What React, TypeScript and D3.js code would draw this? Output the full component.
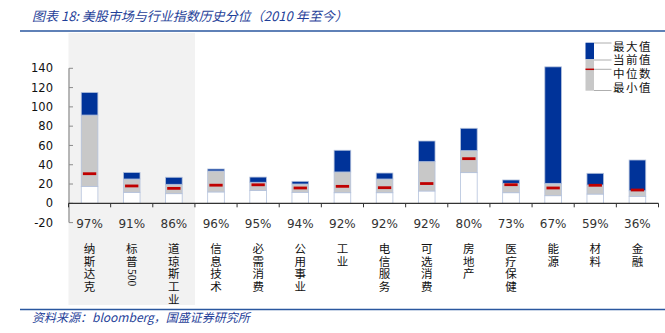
import React from "react";
import * as d3 from "d3";

const categories = ["纳斯达克", "标普500", "道琼斯工业", "信息技术", "必需消费", "公用事业", "工业", "电信服务", "可选消费", "房地产", "医疗保健", "能源", "材料", "金融"];
const percentiles = ["97%", "91%", "86%", "96%", "95%", "94%", "92%", "92%", "92%", "80%", "73%", "67%", "59%", "36%"];
const minVals = [17.6, 11.4, 10, 11.8, 13.3, 11.4, 11, 11, 12.8, 31.8, 11, 7.9, 9.6, 7.3];
const currentVals = [91.5, 25.2, 19.7, 33.5, 21.8, 20, 32.5, 25.2, 43.2, 54.6, 20.7, 20.7, 19, 13];
const maxVals = [115, 32, 27, 35.6, 27.2, 22.8, 55, 31.4, 64.6, 77.8, 24.2, 141.5, 31.1, 44.9];
const medianVals = [30.7, 18, 15.5, 18.8, 19.2, 15.9, 17.6, 16.2, 20.5, 46.3, 19.3, 15.9, 18.7, 13.8];
const yTicks = [-20, 0, 20, 40, 60, 80, 100, 120, 140];
const legendLabels = ["最大值", "当前值", "中位数", "最小值"];
const highlightCount = 3;

const title = "图表 18:  美股市场与行业指数历史分位（2010 年至今）";
const source = "资料来源：bloomberg，国盛证券研究所";

const BLUE = "#003399";
const GRAY = "#c8c8c8";
const RED = "#c00000";
const EDGE = "#b4c2dc";
const TEXTBLUE = "#1f3f99";
const CJK = "'Noto Sans CJK SC', sans-serif";
const CJK_TIGHT = "'Liberation Serif', 'Noto Sans CJK SC', serif";
const NUM = "'DejaVu Sans', sans-serif";

function tokenize(s: string): string[] {
  const out: string[] = [];
  let buf = "";
  for (const ch of s) {
    if (/[0-9A-Za-z]/.test(ch)) buf += ch;
    else {
      if (buf) { out.push(buf); buf = ""; }
      out.push(ch);
    }
  }
  if (buf) out.push(buf);
  return out;
}

export default function App() {
  const W = 665, H = 333;
  const x = d3.scaleBand<string>().domain(categories).range([68.5, 658.5]).padding(0);
  const y = d3.scaleLinear().domain([-20, 140]).range([222.6, 68.3]);
  const bw = x.bandwidth() * 0.395;
  const redW = bw * 0.8;

  const y0 = y(0);

  return (
    <svg width={W} height={H} style={{ position: "absolute", left: 0, top: 0, background: "#fff" }}>
      {/* highlight background */}
      <rect x={68.5} y={33} width={x.bandwidth() * highlightCount} height={272} fill="#f2f2f2" />

      {/* title */}
      <text x={32} y={21} fontFamily={CJK} fontSize={13} fontStyle="italic" fill={TEXTBLUE}>{title}</text>
      <line x1={20} x2={665} y1={31} y2={31} stroke="#2a579f" strokeWidth={1.5} />
      <line x1={20} x2={665} y1={309.5} y2={309.5} stroke="#2a579f" strokeWidth={1.5} />
      <text x={32} y={322} fontFamily={CJK} fontSize={12} fontStyle="italic" fill={TEXTBLUE}>{source}</text>

      {/* y axis */}
      <line x1={69} x2={69} y1={y(140)} y2={y(-20)} stroke="#8c8c8c" strokeWidth={1.2} />
      {yTicks.map((t) => (
        <g key={t}>
          <line x1={69} x2={73} y1={y(t)} y2={y(t)} stroke="#8c8c8c" strokeWidth={1} />
          <text x={53} y={y(t)} dy="0.36em" textAnchor="end" fontFamily={NUM} fontSize={11.5} fill="#111">{t}</text>
        </g>
      ))}

      {/* bars */}
      {categories.map((c, i) => {
        const cx = (x(c) as number) + x.bandwidth() / 2;
        const bx = cx - bw / 2;
        return (
          <g key={c}>
            <rect x={bx} y={y(minVals[i])} width={bw} height={y0 - y(minVals[i])} fill="#fff" stroke={EDGE} strokeWidth={0.8} />
            <rect x={bx} y={y(currentVals[i])} width={bw} height={y(minVals[i]) - y(currentVals[i])} fill={GRAY} stroke={EDGE} strokeWidth={0.8} />
            <rect x={bx} y={y(maxVals[i])} width={bw} height={y(currentVals[i]) - y(maxVals[i])} fill={BLUE} stroke={EDGE} strokeWidth={0.8} />
            <line x1={cx - redW / 2} x2={cx + redW / 2} y1={y(medianVals[i])} y2={y(medianVals[i])} stroke={RED} strokeWidth={2.8} />
          </g>
        );
      })}

      {/* x axis */}
      <line x1={68.5} x2={658.5} y1={y0} y2={y0} stroke="#333" strokeWidth={1.2} />
      {d3.range(categories.length + 1).map((k) => {
        const xx = 68.5 + k * x.bandwidth();
        return <line key={k} x1={xx} x2={xx} y1={y0} y2={y0 + 4} stroke="#333" strokeWidth={1} />;
      })}

      {/* percent labels */}
      {categories.map((c, i) => (
        <text key={c} x={(x(c) as number) + x.bandwidth() / 2} y={227.5} textAnchor="middle" fontFamily={NUM} fontSize={12} fill="#333">{percentiles[i]}</text>
      ))}

      {/* category labels: one character per line */}
      {categories.map((c) => {
        const cx = (x(c) as number) + x.bandwidth() / 2;
        const toks = tokenize(c);
        let top = 242;
        return (
          <g key={c}>
            {toks.map((t, j) => {
              const isRun = /[0-9A-Za-z]/.test(t);
              const adv = isRun ? t.length * 6 + 2 : 12.8;
              const cy = top + adv / 2;
              top += adv;
              if (isRun) {
                return (
                  <text key={j} x={0} y={0} transform={`translate(${cx},${cy}) rotate(90)`} textAnchor="middle" dy="0.36em" fontFamily={CJK_TIGHT} fontSize={11.5} fill="#111">{t}</text>
                );
              }
              return (
                <text key={j} x={cx} y={cy} dy="0.38em" textAnchor="middle" fontFamily={CJK_TIGHT} fontSize={11.5} fill="#111">{t}</text>
              );
            })}
          </g>
        );
      })}

      {/* legend */}
      <g>
        <rect x={585.5} y={42.7} width={8.5} height={16.6} fill={BLUE} />
        <rect x={585.5} y={59.3} width={8.5} height={31.4} fill={GRAY} />
        <line x1={585.5} x2={594} y1={69.3} y2={69.3} stroke={RED} strokeWidth={1.5} />
        {[43, 60, 69.3, 90.5].map((ly, k) => (
          <line key={k} x1={594} x2={611.5} y1={ly} y2={ly} stroke="#999" strokeWidth={0.8} />
        ))}
        {legendLabels.map((l, k) => (
          <text key={l} x={613} y={[46.5, 60, 73.5, 87.5][k]} dy="0.38em" fontFamily={CJK_TIGHT} fontSize={11.5} fill="#111" letterSpacing={1.5}>{l}</text>
        ))}
      </g>
    </svg>
  );
}
